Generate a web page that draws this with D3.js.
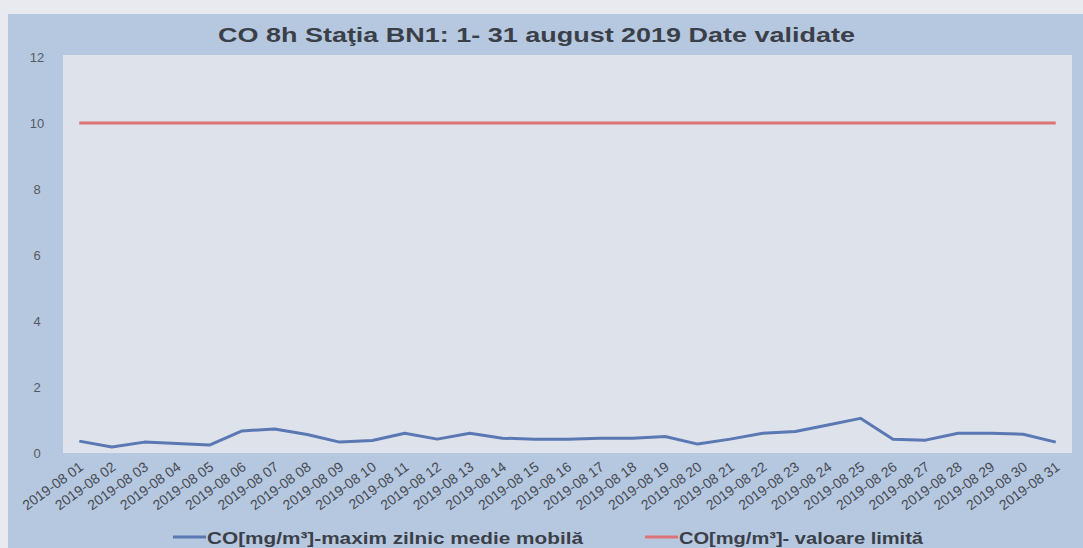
<!DOCTYPE html>
<html>
<head>
<meta charset="utf-8">
<script src="https://cdn.jsdelivr.net/npm/d3@7"></script>
<style>
  body { margin: 0; background: #e9eaef; }
  svg { display: block; font-family: "Liberation Sans", Arial, sans-serif; }
</style>
</head>
<body>
<svg id="chart" width="1083" height="548"></svg>
<script>
// data
const days = d3.range(1, 32).map(d => "2019-08 " + String(d).padStart(2, "0"))
const coValues = [0.36, 0.18, 0.33, 0.29, 0.24, 0.67, 0.73, 0.56, 0.33, 0.38,
                  0.6, 0.42, 0.6, 0.45, 0.42, 0.42, 0.45, 0.45, 0.5, 0.27,
                  0.42, 0.6, 0.65, 0.85, 1.05, 0.42, 0.39, 0.6, 0.6, 0.57, 0.33]
const limitValues = days.map(() => 10)
const yTicks = [0, 2, 4, 6, 8, 10, 12]
const title = "CO 8h Staţia BN1: 1- 31 august 2019 Date validate"
const legendLabels = ["CO[mg/m³]-maxim zilnic medie mobilă", "CO[mg/m³]- valoare limită"]

const svg = d3.select("#chart")
const plot = {left: 63, right: 1072, top: 55, bottom: 453}

// blue card + light plot area
svg.append("rect").attr("x", 8).attr("y", 14).attr("width", 1075).attr("height", 534).attr("fill", "#b6c8e0")
svg.append("rect").attr("x", plot.left).attr("y", plot.top)
    .attr("width", plot.right - plot.left).attr("height", plot.bottom - plot.top)
    .attr("fill", "#dee2eb")

const x = d3.scaleBand().domain(days).range([plot.left, plot.right])
const y = d3.scaleLinear().domain([0, 12]).range([plot.bottom, plot.top + 2])

// the scan is stretched sideways, so texts get a fixed length
svg.append("text").attr("x", 218).attr("y", 42)
    .attr("font-size", 21).attr("font-weight", "bold").attr("fill", "#3b3f48")
    .attr("textLength", 637).attr("lengthAdjust", "spacingAndGlyphs").text(title)

// y axis, labels only
const yAxis = svg.append("g").attr("transform", `translate(37,0)`)
    .call(d3.axisLeft(y).tickValues(yTicks).tickSize(0).tickPadding(0))
yAxis.select(".domain").remove()
yAxis.selectAll("text").attr("font-size", 13).attr("fill", "#565962")
    .attr("font-family", "Liberation Sans, Arial").attr("text-anchor", "middle").attr("dy", "0.35em")

// x axis, rotated labels
const xAxis = svg.append("g").attr("transform", `translate(0,${plot.bottom})`)
    .call(d3.axisBottom(x).tickSize(0).tickPadding(0))
xAxis.select(".domain").remove()
xAxis.selectAll("text")
    .attr("font-size", 14).attr("fill", "#474a52").attr("font-family", "Liberation Sans, Arial")
    .attr("text-anchor", "end").attr("dy", 0)
    .attr("transform", "translate(5,16) rotate(-36)")

const line = d3.line().x((d, i) => x(days[i]) + x.bandwidth() / 2).y(d => y(d))

svg.append("path").datum(limitValues).attr("d", line)
    .attr("fill", "none").attr("stroke", "#dc7377").attr("stroke-width", 3)
svg.append("path").datum(coValues).attr("d", line)
    .attr("fill", "none").attr("stroke", "#5a78b3").attr("stroke-width", 3).attr("stroke-linejoin", "round")

// legend
const legend = [
    {label: legendLabels[0], color: "#5a78b3", x: 173, w: 376},
    {label: legendLabels[1], color: "#dc7377", x: 645, w: 244}
]
legend.forEach(l => {
    svg.append("line").attr("x1", l.x).attr("x2", l.x + 33).attr("y1", 537).attr("y2", 537)
        .attr("stroke", l.color).attr("stroke-width", 3)
    svg.append("text").attr("x", l.x + 34).attr("y", 544).attr("font-size", 17).attr("font-weight", "bold")
        .attr("fill", "#3b3f48").attr("textLength", l.w).attr("lengthAdjust", "spacingAndGlyphs").text(l.label)
})
</script>
</body>
</html>
